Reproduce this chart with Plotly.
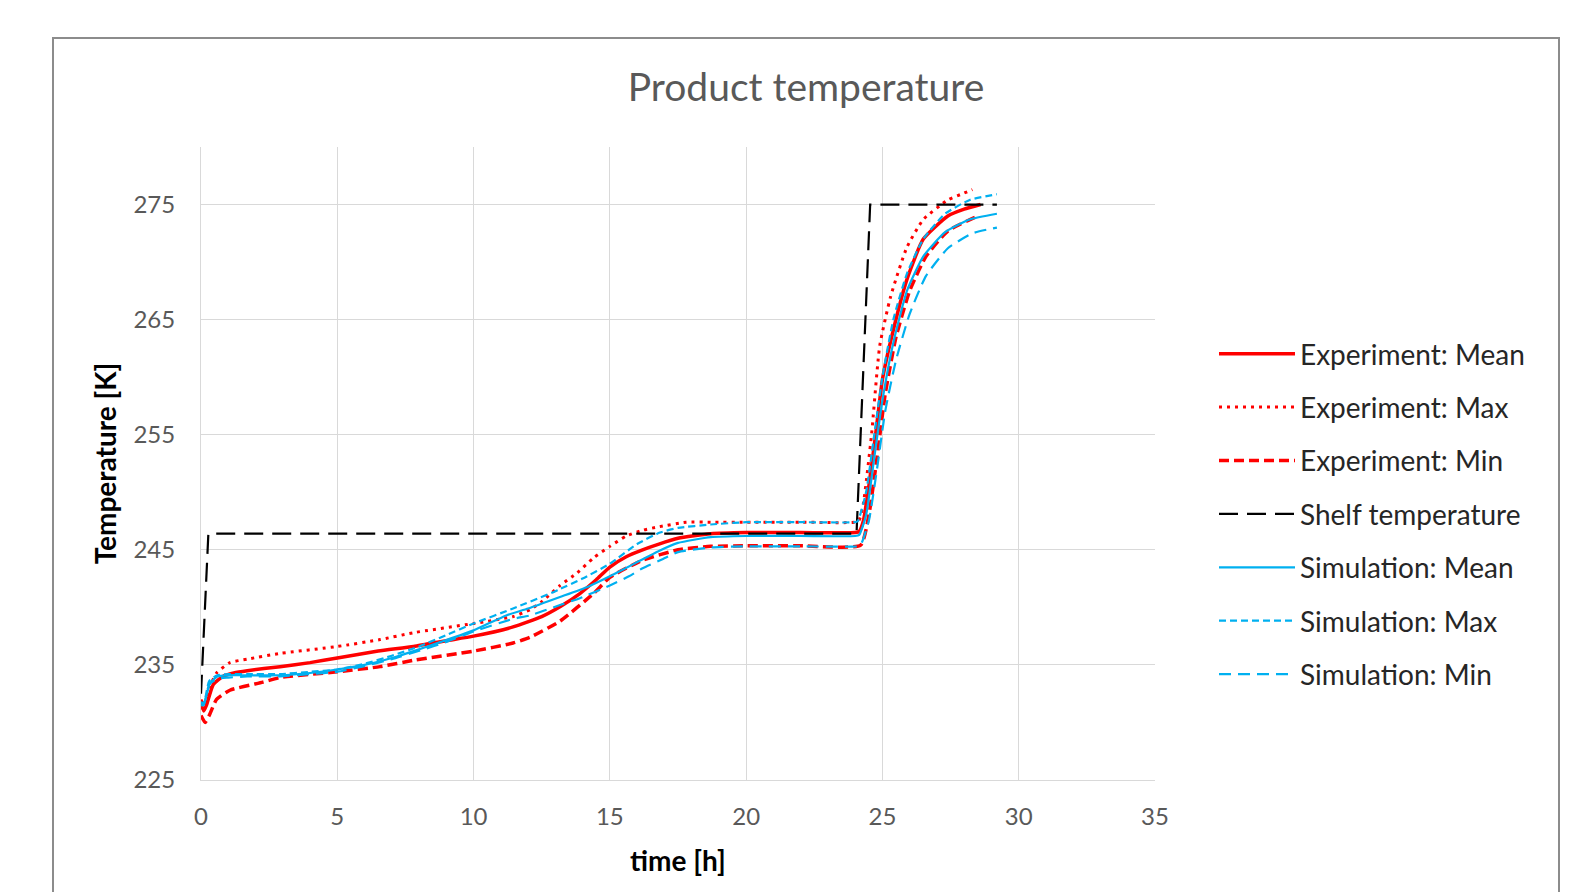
import plotly.graph_objects as go

# ---------------- data ----------------
exp_mean_t = [0.0, 0.1, 0.2, 0.45, 0.8, 1.2, 1.7, 2.9, 4.0, 5.0, 6.5, 7.8, 9.0, 10.0, 11.45, 12.5, 13.2, 13.9, 14.5, 15.0,
              15.6, 16.2, 16.8, 17.5, 18.7, 20.0, 22.0, 24.0, 24.15, 24.3, 24.5, 24.75, 25.0, 25.4, 25.9, 26.5, 27.4, 28.0, 28.6]
exp_mean_T = [231.6, 231.0, 231.5, 233.3, 234.0, 234.3, 234.5, 234.85, 235.2, 235.6, 236.2, 236.6, 237.1, 237.5, 238.3, 239.2, 240.1, 241.2, 242.4, 243.5,
              244.4, 245.0, 245.5, 246.0, 246.4, 246.5, 246.5, 246.5, 246.6, 247.5, 250.5, 255.0, 259.8, 264.1, 268.5, 272.0, 274.0, 274.6, 275.0]

exp_max_t = [0.0, 0.1, 0.3, 0.57, 1.06, 1.7, 2.9, 5.0, 6.57, 7.8, 10.0, 11.45, 12.07, 12.5, 13.17, 13.8, 14.4, 15.0, 15.6, 16.2,
             16.8, 17.8, 18.7, 20.0, 22.0, 24.0, 24.15, 24.3, 24.6, 24.9, 25.3, 25.9, 26.5, 27.4, 28.0, 28.3]
exp_max_T = [232.0, 231.5, 233.0, 234.3, 235.2, 235.5, 236.0, 236.6, 237.2, 237.8, 238.6, 239.2, 239.8, 240.5, 241.9, 243.0, 244.3, 245.3, 246.2, 246.7,
             247.0, 247.4, 247.4, 247.4, 247.4, 247.4, 247.6, 249.0, 255.0, 262.7, 267.0, 271.3, 273.7, 275.4, 276.0, 276.3]

exp_min_t = [0.0, 0.15, 0.3, 0.57, 1.06, 2.27, 2.9, 5.0, 6.57, 7.8, 10.0, 11.45, 12.07, 13.17, 14.4, 15.0, 16.2, 17.5, 18.7, 20.0,
             22.0, 24.2, 24.5, 24.8, 25.1, 25.5, 26.0, 26.6, 27.4, 28.5]
exp_min_T = [230.6, 230.0, 230.6, 232.0, 232.8, 233.5, 233.9, 234.4, 234.85, 235.4, 236.2, 236.9, 237.4, 238.8, 241.2, 242.6, 244.1, 245.0, 245.3, 245.35,
             245.35, 245.4, 248.0, 253.0, 258.5, 263.5, 267.5, 270.5, 272.7, 274.0]

shelf_t = [0.0, 0.27, 24.05, 24.55, 29.2]
shelf_T = [232.5, 246.4, 246.4, 275.0, 275.0]

sim_mean_t = [0.0, 0.1, 0.33, 0.6, 1.0, 1.7, 2.9, 4.0, 5.0, 6.0, 7.0, 7.8, 8.8, 10.0, 11.2, 12.0, 13.17, 14.2, 15.0, 15.9,
              16.8, 17.5, 18.7, 20.0, 22.0, 24.0, 24.15, 24.4, 24.7, 25.0, 25.4, 25.9, 26.5, 27.3, 28.2, 29.2]
sim_mean_T = [231.7, 231.6, 233.4, 234.0, 234.1, 234.1, 234.1, 234.3, 234.6, 235.0, 235.6, 236.2, 237.0, 238.0, 239.3, 239.9, 240.9, 241.8, 242.7, 243.8,
              244.9, 245.6, 246.1, 246.2, 246.2, 246.2, 246.3, 248.0, 253.0, 258.0, 263.0, 267.5, 270.5, 272.6, 273.7, 274.2]

sim_max_t = [0.0, 0.1, 0.3, 0.6, 1.0, 1.7, 2.9, 4.0, 5.0, 6.0, 7.0, 8.0, 9.0, 10.0, 11.45, 12.9, 13.17, 14.0, 15.0, 16.0,
             16.84, 17.5, 18.7, 20.0, 22.0, 24.0, 24.1, 24.4, 24.7, 25.0, 25.4, 25.9, 26.5, 27.3, 28.2, 29.2]
sim_max_T = [231.8, 231.6, 233.6, 234.1, 234.2, 234.2, 234.2, 234.4, 234.6, 235.1, 235.8, 236.6, 237.6, 238.6, 239.9, 241.3, 241.6, 242.5, 243.8, 245.5,
             246.5, 246.9, 247.2, 247.4, 247.4, 247.4, 247.5, 250.0, 255.0, 260.0, 265.0, 269.0, 272.0, 274.2, 275.4, 275.9]

sim_min_t = [0.0, 0.1, 0.3, 0.6, 1.0, 1.7, 2.9, 4.0, 5.0, 6.0, 7.0, 8.1, 9.0, 10.0, 11.45, 12.07, 13.17, 13.9, 15.0, 15.7,
             16.2, 16.95, 17.5, 18.7, 20.0, 22.0, 24.1, 24.2, 24.5, 24.8, 25.1, 25.5, 26.0, 26.6, 27.4, 28.3, 29.2]
sim_min_T = [231.5, 231.5, 233.3, 233.8, 233.9, 234.0, 234.0, 234.2, 234.4, 234.9, 235.5, 236.3, 237.0, 237.9, 239.0, 239.3, 240.2, 240.8, 241.9, 242.7,
             243.4, 244.2, 244.8, 245.2, 245.3, 245.3, 245.3, 245.4, 247.5, 252.0, 257.0, 261.5, 265.5, 268.8, 271.2, 272.5, 273.0]

x_ticks = [0, 5, 10, 15, 20, 25, 30, 35]
y_ticks = [225, 235, 245, 255, 265, 275]

RED = "#FF0000"
BLUE = "#00B0F0"
FONT = "Lato"

series = [
    ("Experiment: Mean", exp_mean_t, exp_mean_T, RED, 3.5, "solid", "spline"),
    ("Experiment: Max", exp_max_t, exp_max_T, RED, 3, "3px,5px", "spline"),
    ("Experiment: Min", exp_min_t, exp_min_T, RED, 3.5, "10px,5px", "spline"),
    ("Shelf temperature", shelf_t, shelf_T, "#000000", 2.2, "19px,9px", "linear"),
    ("Simulation: Mean", sim_mean_t, sim_mean_T, BLUE, 2.2, "solid", "spline"),
    ("Simulation: Max", sim_max_t, sim_max_T, BLUE, 2.2, "7px,4px", "spline"),
    ("Simulation: Min", sim_min_t, sim_min_T, BLUE, 2.2, "12px,7px", "spline"),
]

fig = go.Figure()
for i, (name, t, T, col, w, dash, shape) in enumerate(series):
    line = dict(color=col, width=w, dash=dash, shape=shape)
    if shape == "spline":
        line["smoothing"] = 0.5
    fig.add_trace(go.Scatter(x=t, y=T, name=name, mode="lines",
                             legendgroup=f"g{i}", line=line))

# the page body adds an 8px offset; all positions below are figure coordinates
W, H = 1593, 892
PL, PR, PT, PB = 193, 1147, 139, 772     # plot area edges (px)
L, R, T_, B = PL, W - PR, PT, H - PB
pw, ph = PR - PL, PB - PT

fig.update_layout(
    width=W, height=H,
    margin=dict(l=L, r=R, t=T_, b=B),
    paper_bgcolor="white", plot_bgcolor="white",
    font=dict(family=FONT, color="#595959"),
    title=dict(text="Product temperature", x=798 / W, xanchor="center",
               y=1 - 79 / H, yanchor="middle",
               font=dict(family=FONT, size=39, color="#595959")),
    showlegend=True,
    legend=dict(
        x=(1206 - PL) / pw, xanchor="left", y=(PB - 321) / ph, yanchor="top",
        itemwidth=76, tracegroupgap=14, traceorder="grouped",
        font=dict(family=FONT, size=28, color="#262626"),
        bgcolor="rgba(0,0,0,0)",
    ),
    xaxis=dict(
        range=[0, 35], tickvals=x_ticks, showgrid=True, gridcolor="#D9D9D9", gridwidth=1,
        showline=True, linecolor="#D9D9D9", linewidth=1, zeroline=False,
        ticks="", ticklabelstandoff=15,
        tickfont=dict(family=FONT, size=24, color="#595959"),
        title=dict(text="<b>time [h]</b>", standoff=22,
                   font=dict(family=FONT, size=28, color="#000000")),
    ),
    yaxis=dict(
        range=[225, 280], tickvals=y_ticks, showgrid=True, gridcolor="#D9D9D9", gridwidth=1,
        showline=True, linecolor="#D9D9D9", linewidth=1, zeroline=False,
        ticks="", ticklabelstandoff=20,
        tickfont=dict(family=FONT, size=24, color="#595959"),
        title=dict(text="<b>Temperature [K]</b>", standoff=8,
                   font=dict(family=FONT, size=28, color="#000000")),
    ),
)

# outer chart border
fig.add_shape(type="rect", xref="paper", yref="paper",
              x0=(45 - PL) / pw, x1=(1551 - PL) / pw,
              y0=(PB - 960) / ph, y1=(PB - 30) / ph,
              line=dict(color="#8C8C8C", width=2), fillcolor="rgba(0,0,0,0)", layer="below")

fig.write_html("out.html")
